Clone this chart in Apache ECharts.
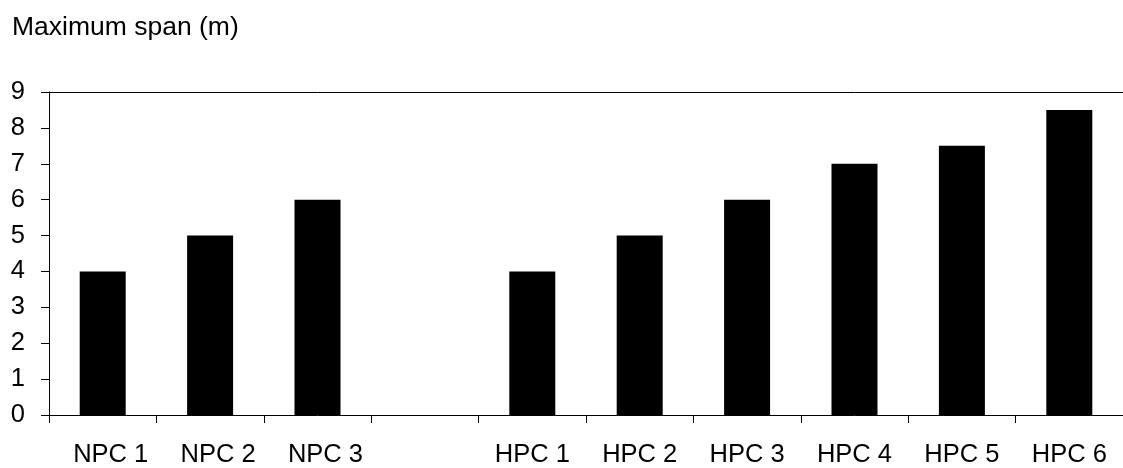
<!DOCTYPE html>
<html>
<head>
<meta charset="utf-8">
<script src="https://cdn.jsdelivr.net/npm/echarts@6/dist/echarts.min.js"></script>
<style>
html,body{margin:0;padding:0;background:#fff;}
#chart{width:1123px;height:468px;}
</style>
</head>
<body>
<div id="chart"></div>
<script>
const categories = ['NPC 1', 'NPC 2', 'NPC 3', '', 'HPC 1', 'HPC 2', 'HPC 3', 'HPC 4', 'HPC 5', 'HPC 6'];
const spanValues = [4, 5, 6, null, 4, 5, 6, 7, 7.5, 8.5];
const yTicks = { min: 0, max: 9, interval: 1 };
const titleText = 'Maximum span (m)';

const FONT = '"Liberation Sans", Arial, Helvetica, sans-serif';
// NPC labels sit slightly right of their bars in the reference
const categoryItems = categories.map(function (c) {
  return c.indexOf('NPC') === 0
    ? { value: c, textStyle: { padding: [0, 0, 0, 16] } }
    : { value: c };
});
const chart = echarts.init(document.getElementById('chart'), null, { renderer: 'canvas' });
chart.setOption({
  animation: false,
  backgroundColor: '#fff',
  title: {
    text: titleText,
    left: 7,
    top: 9,
    textStyle: { fontFamily: FONT, fontSize: 26.5, fontWeight: 'normal', color: '#000' }
  },
  grid: { left: 49, right: -7, top: 92, bottom: 52, containLabel: false },
  xAxis: [{
    type: 'category',
    data: categoryItems,
    position: 'bottom',
    axisLine: { show: true, lineStyle: { color: '#000', width: 1 } },
    axisTick: { show: true, length: 8, alignWithLabel: false, lineStyle: { color: '#000' } },
    axisLabel: { margin: 27, fontFamily: FONT, fontSize: 25.5, color: '#000', interval: 0 },
    splitLine: { show: false }
  }, {
    type: 'category',
    data: categories,
    position: 'top',
    axisLine: { show: true, lineStyle: { color: '#000', width: 1 } },
    axisTick: { show: false },
    axisLabel: { show: false },
    splitLine: { show: false }
  }],
  yAxis: {
    type: 'value',
    min: yTicks.min,
    max: yTicks.max,
    interval: yTicks.interval,
    axisLine: { show: true, lineStyle: { color: '#000', width: 1 } },
    axisTick: { show: true, length: 8, lineStyle: { color: '#000' } },
    axisLabel: { margin: 24, fontFamily: FONT, fontSize: 25.5, color: '#000' },
    splitLine: { show: false }
  },
  series: [{
    type: 'bar',
    data: spanValues,
    barWidth: 46,
    itemStyle: { color: '#000' }
  }]
});
</script>
</body>
</html>
